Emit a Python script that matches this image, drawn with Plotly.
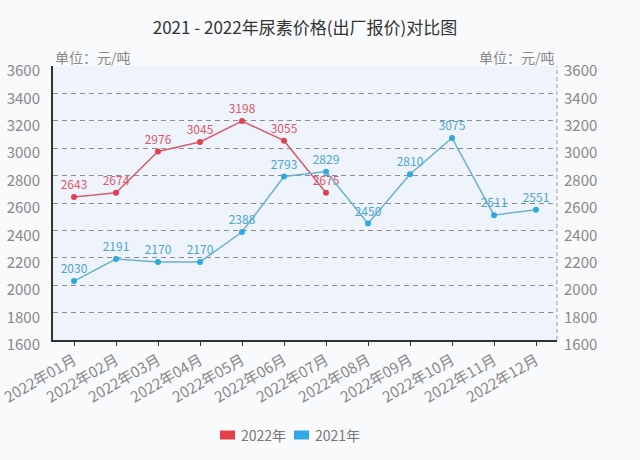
import plotly.graph_objects as go

months = ["2022年01月", "2022年02月", "2022年03月", "2022年04月", "2022年05月", "2022年06月",
          "2022年07月", "2022年08月", "2022年09月", "2022年10月", "2022年11月", "2022年12月"]
values_2022 = [2643, 2674, 2976, 3045, 3198, 3055, 2675]
values_2021 = [2030, 2191, 2170, 2170, 2388, 2793, 2829, 2450, 2810, 3075, 2511, 2551]
y_ticks = [1600, 1800, 2000, 2200, 2400, 2600, 2800, 3000, 3200, 3400, 3600]
legend_names = ["2022年", "2021年"]
legend_colors = ["#e8404a", "#30a8e8"]

FONT = "Noto Sans CJK SC, Noto Sans, sans-serif"
RED_LINE = "#d4606e"
RED_MK = "#e0404f"
BLUE_LINE = "#6cb2cc"
BLUE_MK = "#2ea8de"

# the page's body margin is removed (post_script), so the figure fills the window
OFF = 0
FW, FH = 640 - OFF, 460 - OFF
PL, PR, PT, PB = 53 - OFF, 557 - OFF, 66 - OFF, 340 - OFF  # plot box in figure px
W, H = float(PR - PL), float(PB - PT)

fig = go.Figure()
fig.add_trace(go.Scatter(
    x=months[:len(values_2022)], y=values_2022, mode="lines+markers+text", name=legend_names[0],
    text=[str(v) for v in values_2022], textposition="top center",
    textfont=dict(size=12, color="#d9596a", family=FONT),
    line=dict(color=RED_LINE, width=1.5), marker=dict(color=RED_MK, size=6),
    showlegend=False, cliponaxis=False))
fig.add_trace(go.Scatter(
    x=months, y=values_2021, mode="lines+markers+text", name=legend_names[1],
    text=[str(v) for v in values_2021], textposition="top center",
    textfont=dict(size=12, color="#4aa6cc", family=FONT),
    line=dict(color=BLUE_LINE, width=1.5), marker=dict(color=BLUE_MK, size=6),
    showlegend=False, cliponaxis=False))
# right axis carrier
fig.add_trace(go.Scatter(x=[months[0]], y=[None], yaxis="y2", showlegend=False, hoverinfo="skip"))

shapes = [dict(type="line", xref="paper", yref="paper", x0=1, x1=1, y0=0, y1=1,
               line=dict(color="#999999", width=1, dash="4px,3px"))]
annotations = [
    dict(text="单位：元/吨", xref="paper", yref="paper", x=0, y=1, xanchor="left", yanchor="bottom",
         showarrow=False, font=dict(size=14, color="#888888"), yshift=-3),
    dict(text="单位：元/吨", xref="paper", yref="paper", x=1, y=1, xanchor="right", yanchor="bottom",
         showarrow=False, font=dict(size=14, color="#888888"), yshift=-3),
]
# manual legend (rectangle + label) in page px converted to paper coords
leg_x = [220, 294]
leg_y = (340 - 435) / H
for name, col, lx in zip(legend_names, legend_colors, leg_x):
    x0 = (lx - 53) / W
    x1 = (lx + 15 - 53) / W
    shapes.append(dict(type="rect", xref="paper", yref="paper", x0=x0, x1=x1,
                       y0=leg_y - 4.5 / H, y1=leg_y + 4.5 / H, fillcolor=col, line=dict(width=0)))
    annotations.append(dict(text=name, xref="paper", yref="paper", x=(lx + 19 - 53) / W, y=leg_y,
                            xanchor="left", yanchor="middle", showarrow=False,
                            font=dict(size=14, color="#777777")))

fig.update_layout(
    width=FW, height=FH,
    paper_bgcolor="#f8fafc", plot_bgcolor="#eff3fb",
    margin=dict(l=PL, r=FW - PR, t=PT, b=FH - PB),
    font=dict(family=FONT, color="#888888", size=14),
    title=dict(text="2021 - 2022年尿素价格(出厂报价)对比图", x=(305 - OFF) / FW, xanchor="center",
               y=1 - (28 - OFF) / FH, yanchor="middle", font=dict(size=17, color="#333333")),
    xaxis=dict(type="category", categoryorder="array", categoryarray=months, range=[-0.5, 11.5],
               showline=True, linecolor="#333333", linewidth=2, ticks="outside", ticklen=4,
               tickcolor="#333333", tickangle=-30, showgrid=False, zeroline=False, automargin=False,
               tickfont=dict(size=15, color="#888888")),
    yaxis=dict(range=[1600, 3600], tickvals=y_ticks, showline=True, linecolor="#333333", linewidth=2,
               showgrid=True, gridcolor="#8c8c8c", gridwidth=1, griddash="5px,4px", zeroline=False,
               automargin=False, ticks="", ticklabelshift=5, ticklabelstandoff=8,
               tickfont=dict(size=15, color="#888888")),
    yaxis2=dict(range=[1600, 3600], tickvals=y_ticks, overlaying="y", side="right", showgrid=False,
                zeroline=False, showline=False, ticks="", ticklabelshift=5, ticklabelstandoff=6,
                automargin=False, tickfont=dict(size=15, color="#888888")),
    showlegend=False,
    shapes=shapes,
    annotations=annotations,
)
fig.write_html("out.html", config={"displayModeBar": False},
               post_script="document.body.style.margin='0';document.body.style.background='#f8fafc';")
